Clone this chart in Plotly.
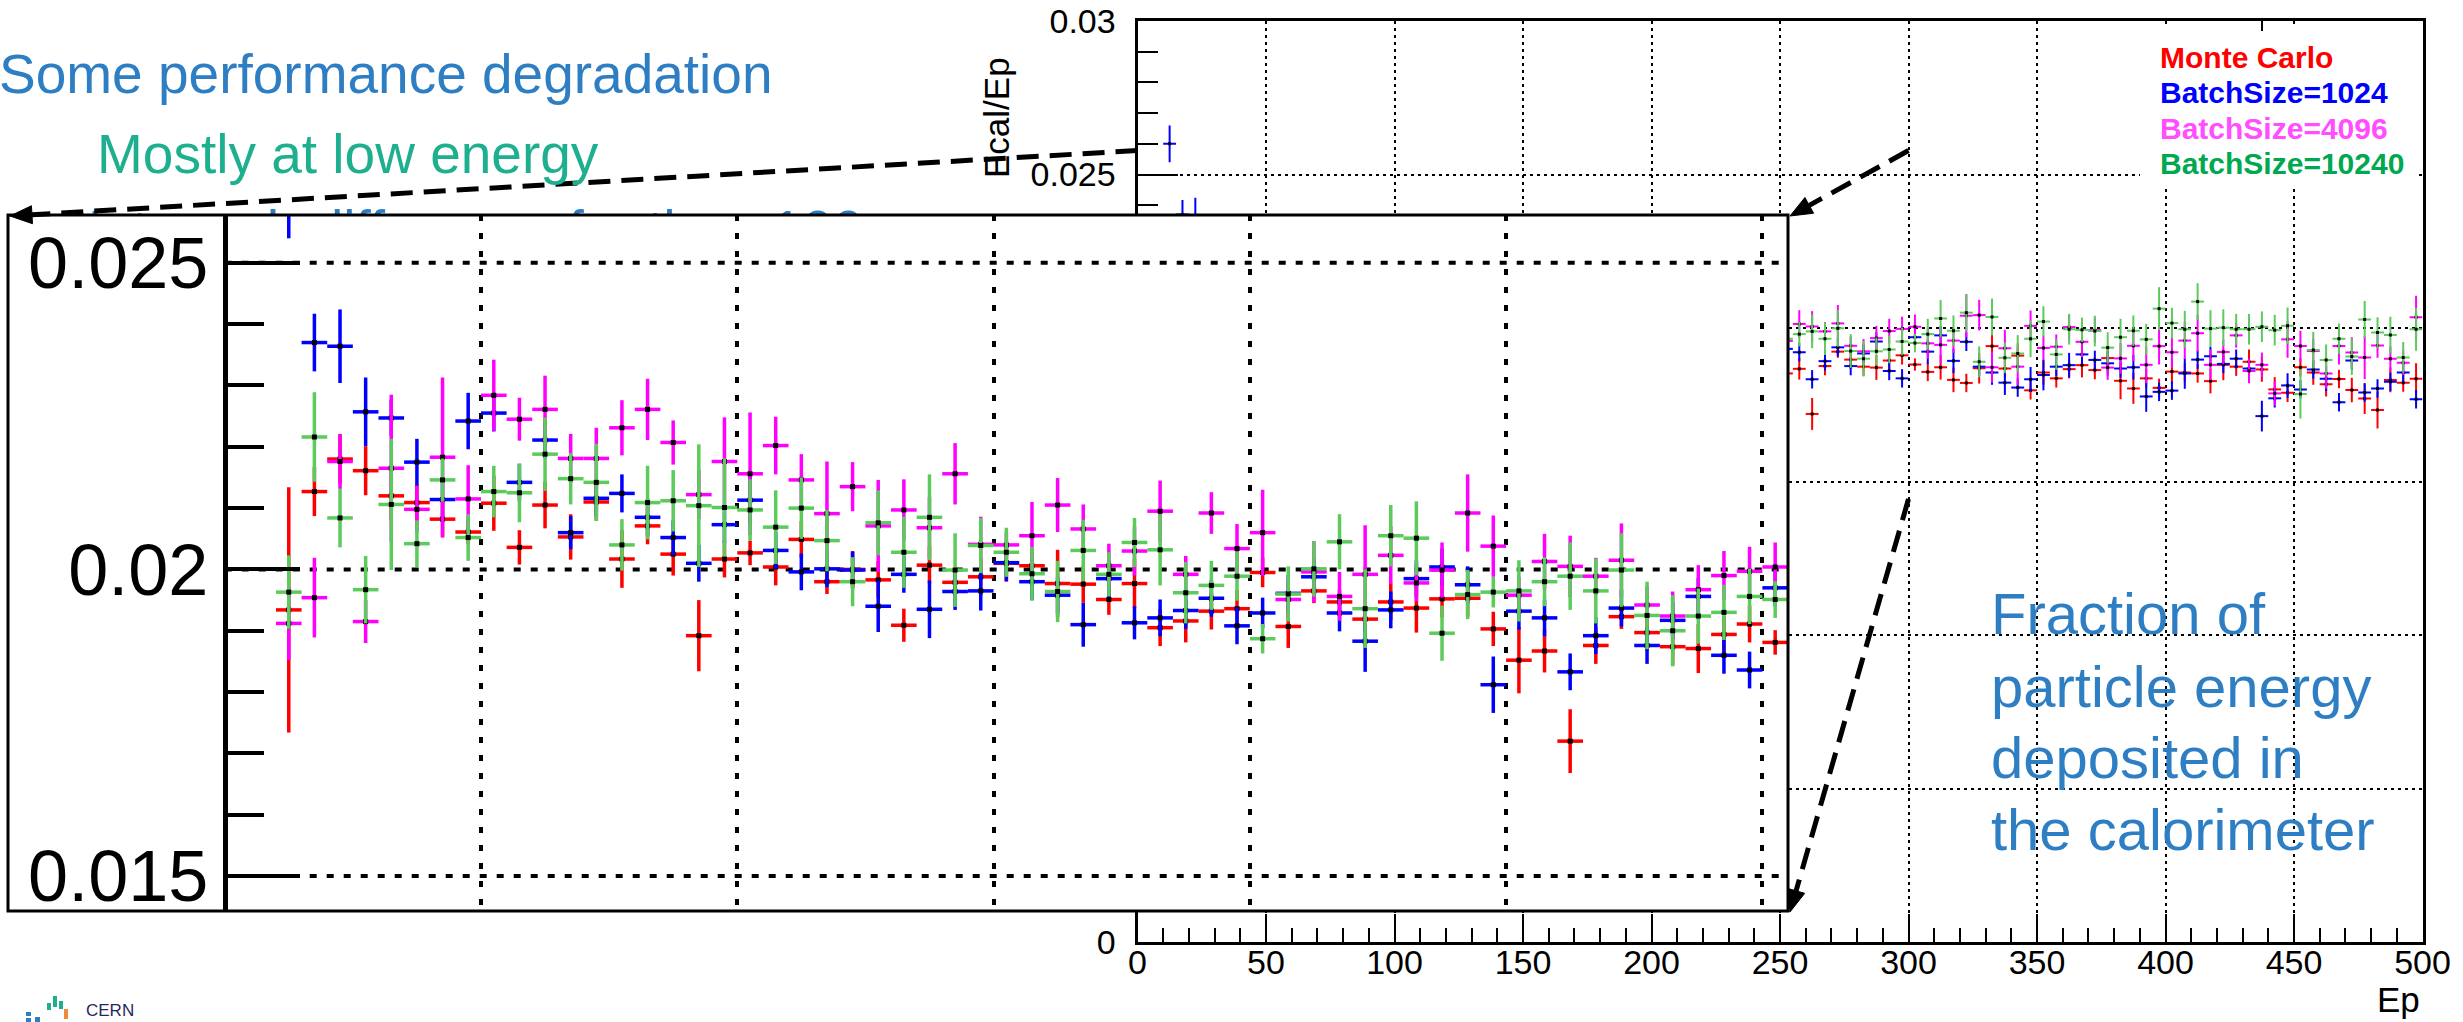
import plotly.graph_objects as go

W, H = 2463, 1022
FONT = "Liberation Sans, Arial, Helvetica, sans-serif"

# ---------------- data (Ep bin centres, Ecal/Ep per training configuration) ----------------
EP = [12.5, 17.5, 22.5, 27.5, 32.5, 37.5, 42.5, 47.5, 52.5, 57.5,
      62.5, 67.5, 72.5, 77.5, 82.5, 87.5, 92.5, 97.5, 102.5, 107.5,
      112.5, 117.5, 122.5, 127.5, 132.5, 137.5, 142.5, 147.5, 152.5, 157.5,
      162.5, 167.5, 172.5, 177.5, 182.5, 187.5, 192.5, 197.5, 202.5, 207.5,
      212.5, 217.5, 222.5, 227.5, 232.5, 237.5, 242.5, 247.5, 252.5, 257.5,
      262.5, 267.5, 272.5, 277.5, 282.5, 287.5, 292.5, 297.5, 302.5,
      307.5, 312.5, 317.5, 322.5, 327.5, 332.5, 337.5, 342.5, 347.5, 352.5,
      357.5, 362.5, 367.5, 372.5, 377.5, 382.5, 387.5, 392.5, 397.5, 402.5,
      407.5, 412.5, 417.5, 422.5, 427.5, 432.5, 437.5, 442.5, 447.5, 452.5,
      457.5, 462.5, 467.5, 472.5, 477.5, 482.5, 487.5, 492.5, 497.5]

MONTE_CARLO = [0.01934, 0.02127, 0.02180, 0.02161, 0.02120, 0.02109, 0.02082, 0.02061, 0.02108, 0.02036,
               0.02105, 0.02053, 0.02110, 0.02017, 0.02071, 0.02025, 0.01892, 0.02017, 0.02027, 0.02004,
               0.02049, 0.01980, 0.02000, 0.01983, 0.01909, 0.02007, 0.01979, 0.01988, 0.02010, 0.02006,
               0.01977, 0.01976, 0.01951, 0.01977, 0.01905, 0.01916, 0.01932, 0.01936, 0.01995, 0.01907,
               0.01965, 0.01947, 0.01919, 0.01947, 0.01937, 0.01952, 0.01953, 0.01903, 0.01852, 0.01867,
               0.01720, 0.01876, 0.01923, 0.01897, 0.01874, 0.01871, 0.01894, 0.01911, 0.01881,
               0.01857, 0.01872, 0.01831, 0.01821, 0.01869, 0.01941, 0.01868, 0.01910, 0.01797, 0.01855,
               0.01836, 0.01866, 0.01879, 0.01863, 0.01902, 0.01828, 0.01803, 0.01836, 0.01805, 0.01858,
               0.01855, 0.01852, 0.01827, 0.01880, 0.01874, 0.01890, 0.01865, 0.01800, 0.01789, 0.01872,
               0.01855, 0.01817, 0.01834, 0.01798, 0.01770, 0.01733, 0.01831, 0.01822, 0.01835]
MONTE_CARLO_ERR = [0.0020, 0.0004, 0.0004, 0.0004, 0.0004, 0.0003, 0.0003, 0.0002, 0.00045, 0.00028,
                   0.00038, 0.00037, 0.0003, 0.00047, 0.0003, 0.00035, 0.00058, 0.0003, 0.0002, 0.0003,
                   0.0003, 0.0002, 0.0003, 0.0003, 0.00027, 0.0003, 0.0002, 0.0003, 0.0003, 0.0002,
                   0.00055, 0.0003, 0.00025, 0.0004, 0.0003, 0.00035, 0.0003, 0.0003, 0.00024, 0.00035,
                   0.0002, 0.0002, 0.0002, 0.0003, 0.0004, 0.0003, 0.0003, 0.00028, 0.00054, 0.00035,
                   0.00052, 0.0003, 0.0002, 0.0003, 0.0003, 0.0004, 0.0003, 0.0003, 0.0002,
                   0.0003, 0.0004, 0.0004, 0.0003, 0.0005, 0.0004, 0.0003, 0.0004, 0.0003, 0.0004,
                   0.0003, 0.0003, 0.0004, 0.0003, 0.0004, 0.0006, 0.0005, 0.0003, 0.0003, 0.0004,
                   0.0003, 0.0003, 0.0004, 0.0005, 0.0003, 0.0004, 0.0004, 0.0004, 0.0003, 0.0003,
                   0.0004, 0.0004, 0.0003, 0.0004, 0.0005, 0.0006, 0.0004, 0.0003, 0.0005]

BATCH_1024 = [0.02600, 0.02370, 0.02364, 0.02257, 0.02247, 0.02175, 0.02114, 0.02242, 0.02255, 0.02142,
              0.02211, 0.02060, 0.02116, 0.02124, 0.02085, 0.02052, 0.02010, 0.02073, 0.02113, 0.02031,
              0.01996, 0.02001, 0.01999, 0.01940, 0.01992, 0.01935, 0.01964, 0.01965, 0.02011, 0.01980,
              0.01958, 0.01910, 0.01985, 0.01913, 0.01921, 0.01933, 0.01953, 0.01908, 0.01929, 0.01961,
              0.01988, 0.01929, 0.01883, 0.01934, 0.01985, 0.02004, 0.01975, 0.01812, 0.01932, 0.01921,
              0.01833, 0.01892, 0.01937, 0.01876, 0.01917, 0.01956, 0.01860, 0.01836, 0.01970,
              0.01923, 0.01976, 0.01893, 0.01955, 0.01874, 0.01855, 0.01822, 0.01806, 0.01833, 0.01847,
              0.01874, 0.01879, 0.01914, 0.01896, 0.01885, 0.01868, 0.01872, 0.01777, 0.01792, 0.01796,
              0.01852, 0.01897, 0.01908, 0.01883, 0.01900, 0.01868, 0.01713, 0.01771, 0.01813, 0.01800,
              0.01865, 0.01835, 0.01758, 0.01894, 0.01790, 0.01803, 0.01825, 0.01855, 0.01768]
BATCH_1024_ERR = [0.0006, 0.00047, 0.0006, 0.00056, 0.0003, 0.00038, 0.0003, 0.00046, 0.0003, 0.0003,
                  0.0003, 0.00027, 0.0003, 0.00031, 0.0003, 0.00028, 0.0003, 0.0003, 0.0004, 0.0003,
                  0.0003, 0.0003, 0.0003, 0.00042, 0.0003, 0.00047, 0.0003, 0.00032, 0.0003, 0.0003,
                  0.0003, 0.00036, 0.0003, 0.00027, 0.0003, 0.0003, 0.0003, 0.0003, 0.00025, 0.0003,
                  0.0003, 0.0003, 0.0005, 0.0003, 0.0003, 0.0003, 0.0003, 0.00046, 0.0003, 0.0003,
                  0.0003, 0.0003, 0.0003, 0.0003, 0.0003, 0.0003, 0.0003, 0.0003, 0.0003,
                  0.0004, 0.0003, 0.0004, 0.0003, 0.0003, 0.0004, 0.0004, 0.0003, 0.0004, 0.0005,
                  0.0003, 0.0004, 0.0003, 0.0003, 0.0004, 0.0003, 0.0004, 0.0005, 0.0003, 0.0003,
                  0.0005, 0.0003, 0.0003, 0.0003, 0.0003, 0.0003, 0.0005, 0.0003, 0.0004, 0.0003,
                  0.0003, 0.0004, 0.0003, 0.0003, 0.0003, 0.0003, 0.0003, 0.0003, 0.0003]

BATCH_4096 = [0.01912, 0.01954, 0.02176, 0.01915, 0.02165, 0.02098, 0.02183, 0.02115, 0.02284, 0.02245,
              0.02261, 0.02181, 0.02181, 0.02231, 0.02261, 0.02207, 0.02122, 0.02176, 0.02156, 0.02202,
              0.02146, 0.02091, 0.02135, 0.02071, 0.02097, 0.02068, 0.02156, 0.02041, 0.02040, 0.02055,
              0.02105, 0.02066, 0.02006, 0.02030, 0.02095, 0.01992, 0.02092, 0.02034, 0.02060, 0.01951,
              0.01996, 0.01956, 0.01992, 0.02023, 0.01978, 0.01999, 0.02092, 0.02038, 0.01958, 0.02013,
              0.02005, 0.01989, 0.02015, 0.01942, 0.01924, 0.01967, 0.01990, 0.01997, 0.02004,
              0.01950, 0.01945, 0.01959, 0.02040, 0.02042, 0.01872, 0.01934, 0.01874, 0.02007, 0.01935,
              0.01939, 0.02003, 0.01955, 0.01993, 0.01871, 0.01901, 0.01942, 0.01880, 0.01941, 0.01921,
              0.01959, 0.01983, 0.01880, 0.01922, 0.01976, 0.01860, 0.01880, 0.01787, 0.01963, 0.01941,
              0.01925, 0.01852, 0.01941, 0.01920, 0.01904, 0.01943, 0.01900, 0.01887, 0.02035]
BATCH_4096_ERR = [0.0006, 0.00065, 0.00045, 0.00035, 0.0012, 0.00038, 0.0013, 0.00055, 0.00058, 0.00035,
                  0.00055, 0.0004, 0.0005, 0.00045, 0.0005, 0.00036, 0.0004, 0.00072, 0.0010, 0.00047,
                  0.00042, 0.00085, 0.0004, 0.00075, 0.0005, 0.0005, 0.0005, 0.00045, 0.0002, 0.00055,
                  0.00044, 0.0004, 0.00036, 0.0004, 0.0005, 0.0003, 0.00034, 0.0004, 0.0007, 0.0003,
                  0.0005, 0.0004, 0.0008, 0.00047, 0.0003, 0.00045, 0.00063, 0.0005, 0.0003, 0.00045,
                  0.0005, 0.0003, 0.0006, 0.0003, 0.0004, 0.0004, 0.0004, 0.0004, 0.0004,
                  0.0005, 0.0006, 0.0004, 0.0007, 0.0005, 0.0005, 0.0006, 0.0006, 0.0005, 0.0004,
                  0.0004, 0.0004, 0.0005, 0.0004, 0.0004, 0.0005, 0.0005, 0.0006, 0.0006, 0.0005,
                  0.0006, 0.0006, 0.0005, 0.0004, 0.0004, 0.0004, 0.0004, 0.0004, 0.0006, 0.0005,
                  0.0004, 0.0005, 0.0006, 0.0005, 0.0007, 0.0004, 0.0004, 0.0004, 0.0007]

BATCH_10240 = [0.01963, 0.02216, 0.02084, 0.01967, 0.02106, 0.02042, 0.02146, 0.02052, 0.02127, 0.02125,
               0.02188, 0.02148, 0.02142, 0.02040, 0.02109, 0.02112, 0.02104, 0.02101, 0.02097, 0.02069,
               0.02100, 0.02047, 0.01980, 0.02076, 0.02028, 0.02085, 0.01999, 0.02039, 0.02028, 0.01993,
               0.01964, 0.02031, 0.01992, 0.02044, 0.02032, 0.01962, 0.01974, 0.01989, 0.01887, 0.01960,
               0.02001, 0.02045, 0.01936, 0.02055, 0.02051, 0.01896, 0.01959, 0.01963, 0.01965, 0.01980,
               0.01989, 0.01965, 0.01999, 0.01925, 0.01900, 0.01924, 0.01930, 0.01956, 0.01951,
               0.01980, 0.02031, 0.01991, 0.02050, 0.01890, 0.02036, 0.01903, 0.01917, 0.01965, 0.02021,
               0.01914, 0.01996, 0.01994, 0.01990, 0.01936, 0.01970, 0.01991, 0.01963, 0.02063, 0.02016,
               0.01996, 0.02086, 0.01998, 0.02001, 0.01996, 0.01996, 0.02004, 0.01993, 0.02007, 0.01785,
               0.01928, 0.01896, 0.01965, 0.01907, 0.02028, 0.01985, 0.01977, 0.01904, 0.01996]
BATCH_10240_ERR = [0.0006, 0.00073, 0.00048, 0.00055, 0.00107, 0.00038, 0.00035, 0.00038, 0.00042, 0.00048,
                   0.0006, 0.00042, 0.00063, 0.00042, 0.0006, 0.0005, 0.0010, 0.0008, 0.0005, 0.0006,
                   0.0005, 0.0005, 0.0004, 0.00053, 0.00058, 0.0007, 0.0006, 0.00045, 0.0004, 0.00044,
                   0.0005, 0.0005, 0.00036, 0.0004, 0.00058, 0.0005, 0.0004, 0.0004, 0.00024, 0.00045,
                   0.00045, 0.00045, 0.00064, 0.0005, 0.0006, 0.00045, 0.0004, 0.00025, 0.0005, 0.0004,
                   0.00055, 0.00053, 0.0006, 0.00055, 0.00058, 0.00045, 0.00045, 0.00045, 0.0003,
                   0.0005, 0.0006, 0.0005, 0.0006, 0.0005, 0.0006, 0.0005, 0.0006, 0.0006, 0.0005,
                   0.0005, 0.0005, 0.0004, 0.0005, 0.0005, 0.0006, 0.0005, 0.0005, 0.0007, 0.0005,
                   0.0006, 0.0006, 0.0006, 0.0006, 0.0005, 0.0005, 0.0005, 0.0005, 0.0006, 0.0008,
                   0.0006, 0.0005, 0.0005, 0.0006, 0.0006, 0.0005, 0.0006, 0.0005, 0.0007]

SERIES_NAMES = ["Monte Carlo", "BatchSize=1024", "BatchSize=4096", "BatchSize=10240"]
X_TICKS = [0, 50, 100, 150, 200, 250, 300, 350, 400, 450, 500]
Y_TICKS = [0, 0.005, 0.01, 0.015, 0.02, 0.025, 0.03]
Y_TICK_TEXT = ["0", "0.005", "0.01", "0.015", "0.02", "0.025", "0.03"]
INSET_Y_TICKS = [0.015, 0.02, 0.025]
INSET_Y_TICK_TEXT = ["0.015", "0.02", "0.025"]
INSET_X_GRID = [50, 100, 150, 200, 250, 300]

# ---------------- styles / layout geometry (pixels) ----------------
DATA_COLORS = ["#FF0000", "#0000FF", "#FF00FF", "#5BCB5B"]
LEGEND_COLORS = ["#FF0000", "#0000FF", "#FF4DFF", "#00A84F"]
TXT_BLUE = "#2E7EC3"
TXT_TEAL = "#1DAF8E"

MAIN = dict(x0=1137.5, x1=2422.5, y0=942.0, y1=21.0)     # plot area, px
INSET = dict(x0=8.0, x1=1788.0, y0=911.0, y1=215.0)       # inset picture, px
HOLD = dict(x0=0.0, x1=1100.0, y0=260.0, y1=200.0)        # holder of the slide text hidden by the inset
INSET_AXIS_X = 224.7                                      # px of Ep = 0 in the inset
INSET_PX_PER_EP = 5.1256
X_MAIN = [0, 500]
Y_MAIN = [0, 0.03]
X_INSET = [(INSET["x0"] - INSET_AXIS_X) / INSET_PX_PER_EP, (INSET["x1"] - INSET_AXIS_X) / INSET_PX_PER_EP]
Y_INSET = [0.01443, 0.02578]


def fx(p):
    return p / W


def fy(p):
    return 1 - p / H


def main_px(u, v):
    x = MAIN["x0"] + (u - X_MAIN[0]) / (X_MAIN[1] - X_MAIN[0]) * (MAIN["x1"] - MAIN["x0"])
    y = MAIN["y0"] + (v - Y_MAIN[0]) / (Y_MAIN[1] - Y_MAIN[0]) * (MAIN["y1"] - MAIN["y0"])
    return x, y


fig = go.Figure()

# third line of the slide text, lying underneath the inset picture (only its tops peek out)
hx = (62 - HOLD["x0"]) / (HOLD["x1"] - HOLD["x0"])
hy = (HOLD["y0"] - 235) / (HOLD["y0"] - HOLD["y1"])
fig.add_trace(go.Scatter(x=[hx], y=[hy], mode="text", text=["Not much difference for the >100"],
                         textposition="middle right", cliponaxis=False,
                         textfont=dict(size=55, color=TXT_BLUE, family=FONT),
                         xaxis="x2", yaxis="y2", showlegend=False, hoverinfo="skip"))

values = [MONTE_CARLO, BATCH_1024, BATCH_4096, BATCH_10240]
errors = [MONTE_CARLO_ERR, BATCH_1024_ERR, BATCH_4096_ERR, BATCH_10240_ERR]

for (xa, ya, thick, msize) in [("x", "y", 2, 3), ("x3", "y3", 3.5, 5)]:
    for name, vals, errs, col in zip(SERIES_NAMES, values, errors, DATA_COLORS):
        fig.add_trace(go.Scatter(
            x=EP, y=vals, mode="markers", name=name,
            marker=dict(symbol="square", size=msize, color="black", line=dict(width=0)),
            error_x=dict(type="constant", value=2.5, width=0, thickness=thick, color=col),
            error_y=dict(type="data", array=errs, width=0, thickness=thick, color=col),
            xaxis=xa, yaxis=ya, showlegend=False, hoverinfo="skip"))

axis_font = dict(size=34, family=FONT, color="black")
fig.update_layout(
    width=W, height=H, autosize=False,
    margin=dict(l=0, r=0, t=0, b=0, pad=0, autoexpand=False),
    paper_bgcolor="white", plot_bgcolor="white", showlegend=False,
    xaxis=dict(domain=[fx(MAIN["x0"]), fx(MAIN["x1"])], range=X_MAIN, anchor="y", automargin=False,
               tickmode="array", tickvals=X_TICKS, ticktext=[str(t) for t in X_TICKS],
               ticks="inside", ticklen=28, tickwidth=2, tickcolor="black", ticklabelstandoff=-12,
               minor=dict(tick0=0, dtick=10, ticks="inside", ticklen=14, tickwidth=2,
                          tickcolor="black", showgrid=False),
               showline=True, linewidth=3, linecolor="black", mirror=True,
               showgrid=True, gridcolor="black", gridwidth=1.5, griddash="3px,4px",
               zeroline=False, tickfont=axis_font),
    yaxis=dict(domain=[fy(MAIN["y0"]), fy(MAIN["y1"])], range=Y_MAIN, anchor="x", automargin=False,
               tickmode="array", tickvals=Y_TICKS, ticktext=Y_TICK_TEXT,
               ticks="inside", ticklen=40, tickwidth=2, tickcolor="black", ticklabelstandoff=12,
               minor=dict(tick0=0, dtick=0.001, ticks="inside", ticklen=20, tickwidth=2,
                          tickcolor="black", showgrid=False),
               showline=True, linewidth=3, linecolor="black", mirror=True,
               showgrid=True, gridcolor="black", gridwidth=1.5, griddash="3px,4px",
               zeroline=False, tickfont=axis_font),
    # invisible holder subplot for the slide line that the inset hides
    xaxis2=dict(domain=[fx(HOLD["x0"]), fx(HOLD["x1"])], range=[0, 1], anchor="y2", visible=False),
    yaxis2=dict(domain=[fy(HOLD["y0"]), fy(HOLD["y1"])], range=[0, 1], anchor="x2", visible=False),
    # inset (zoom of the low-energy region)
    xaxis3=dict(domain=[fx(INSET["x0"]), fx(INSET["x1"])], range=X_INSET, anchor="y3", automargin=False,
                tickmode="array", tickvals=INSET_X_GRID, showticklabels=False, ticks="",
                showgrid=True, gridcolor="black", gridwidth=4, griddash="6px,12px",
                showline=False, zeroline=False),
    yaxis3=dict(domain=[fy(INSET["y0"]), fy(INSET["y1"])], range=Y_INSET, anchor="free",
                position=fx(INSET_AXIS_X), automargin=False,
                tickmode="array", tickvals=INSET_Y_TICKS, ticktext=INSET_Y_TICK_TEXT,
                ticks="inside", ticklen=72, tickwidth=4, tickcolor="black",
                minor=dict(tick0=0, dtick=0.001, ticks="inside", ticklen=36, tickwidth=4,
                           tickcolor="black", showgrid=False),
                showline=True, linewidth=5, linecolor="black",
                showgrid=False, zeroline=False,
                tickfont=dict(size=72, family=FONT, color="black")),
)

shapes = []
# inset horizontal grid (starts at the inset y axis)
for v in INSET_Y_TICKS:
    shapes.append(dict(type="line", xref="x3", yref="y3", x0=0, x1=X_INSET[1], y0=v, y1=v,
                       line=dict(color="black", width=4, dash="7px,10px"), layer="below"))
# inset picture frame
shapes.append(dict(type="rect", xref="paper", yref="paper",
                   x0=fx(INSET["x0"]), x1=fx(INSET["x1"]), y0=fy(INSET["y0"]), y1=fy(INSET["y1"]),
                   line=dict(color="black", width=3), fillcolor="rgba(0,0,0,0)", layer="above"))
# legend box (white, no border)
shapes.append(dict(type="rect", xref="paper", yref="paper",
                   x0=fx(2140), x1=fx(2419), y0=fy(186), y1=fy(24),
                   line=dict(width=0), fillcolor="white", layer="above"))
shapes.append(dict(type="line", xref="paper", yref="paper", x0=fx(2262), x1=fx(2262),
                   y0=fy(21), y1=fy(31), line=dict(color="black", width=2), layer="above"))


def arrow(start, tip, L=22, Wd=9):
    sx, sy = start
    tx, ty = tip
    dx, dy = tx - sx, ty - sy
    n = (dx * dx + dy * dy) ** 0.5
    dx, dy = dx / n, dy / n
    bx, by = tx - dx * L, ty - dy * L
    px_, py_ = -dy, dx
    out = [dict(type="line", xref="paper", yref="paper", x0=fx(sx), y0=fy(sy), x1=fx(bx), y1=fy(by),
                line=dict(color="black", width=5, dash="22px,11px"), layer="above")]
    path = "M {} {} L {} {} L {} {} Z".format(
        fx(tx), fy(ty), fx(bx + px_ * Wd), fy(by + py_ * Wd), fx(bx - px_ * Wd), fy(by - py_ * Wd))
    out.append(dict(type="path", xref="paper", yref="paper", path=path,
                    fillcolor="black", line=dict(color="black", width=1), layer="above"))
    return out


shapes += arrow(main_px(0, Y_INSET[1]), (INSET["x0"] + 2, INSET["y1"] + 1))
shapes += arrow(main_px(300, Y_INSET[1]), (INSET["x1"] + 2, INSET["y1"] + 1))
shapes += arrow(main_px(300, Y_INSET[0]), (INSET["x1"] + 2, INSET["y0"] + 1))

# small CERN openlab logo bits
for (x0, y0, x1, y1, c) in [(47, 1003, 51, 1010, "#1DAF8E"), (53, 996, 57, 1007, "#1DAF8E"),
                            (59, 1001, 63, 1009, "#1DAF8E"), (64, 1009, 68, 1019, "#F08A3A"),
                            (26, 1012, 31, 1016, "#2E7EC3"), (26, 1018, 31, 1022, "#2E7EC3"),
                            (35, 1017, 40, 1022, "#2E7EC3")]:
    shapes.append(dict(type="rect", xref="paper", yref="paper", x0=fx(x0), x1=fx(x1), y0=fy(y1), y1=fy(y0),
                       fillcolor=c, line=dict(width=0), layer="above"))
fig.update_layout(shapes=shapes)

ann = []


def text(x, y, s, size, color, xanchor="left", angle=0, bold=False):
    ann.append(dict(x=fx(x), y=fy(y), xref="paper", yref="paper", text=("<b>%s</b>" % s) if bold else s,
                    showarrow=False, xanchor=xanchor, yanchor="middle", textangle=angle,
                    font=dict(size=size, color=color, family=FONT)))


text(775, 74, "Some performance degradation", 55, TXT_BLUE, xanchor="right")
text(348, 154, "Mostly at low energy", 55, TXT_TEAL, xanchor="center")
text(1989, 613, "Fraction of", 58, TXT_BLUE)
text(1989, 686, "particle energy", 58, TXT_BLUE)
text(1989, 757, "deposited in", 58, TXT_BLUE)
text(1989, 829, "the calorimeter", 58, TXT_BLUE)
for i, (name, col) in enumerate(zip(SERIES_NAMES, LEGEND_COLORS)):
    text(2158, 58 + 35 * i, name, 30, col, bold=True)
text(996, 118, "Ecal/Ep", 35, "black", xanchor="center", angle=-90)
text(2422, 999, "Ep", 35, "black", xanchor="right")
text(84, 1010, "CERN", 17, "#1F2A5C")
fig.update_layout(annotations=ann)

fig.write_html("out.html")
